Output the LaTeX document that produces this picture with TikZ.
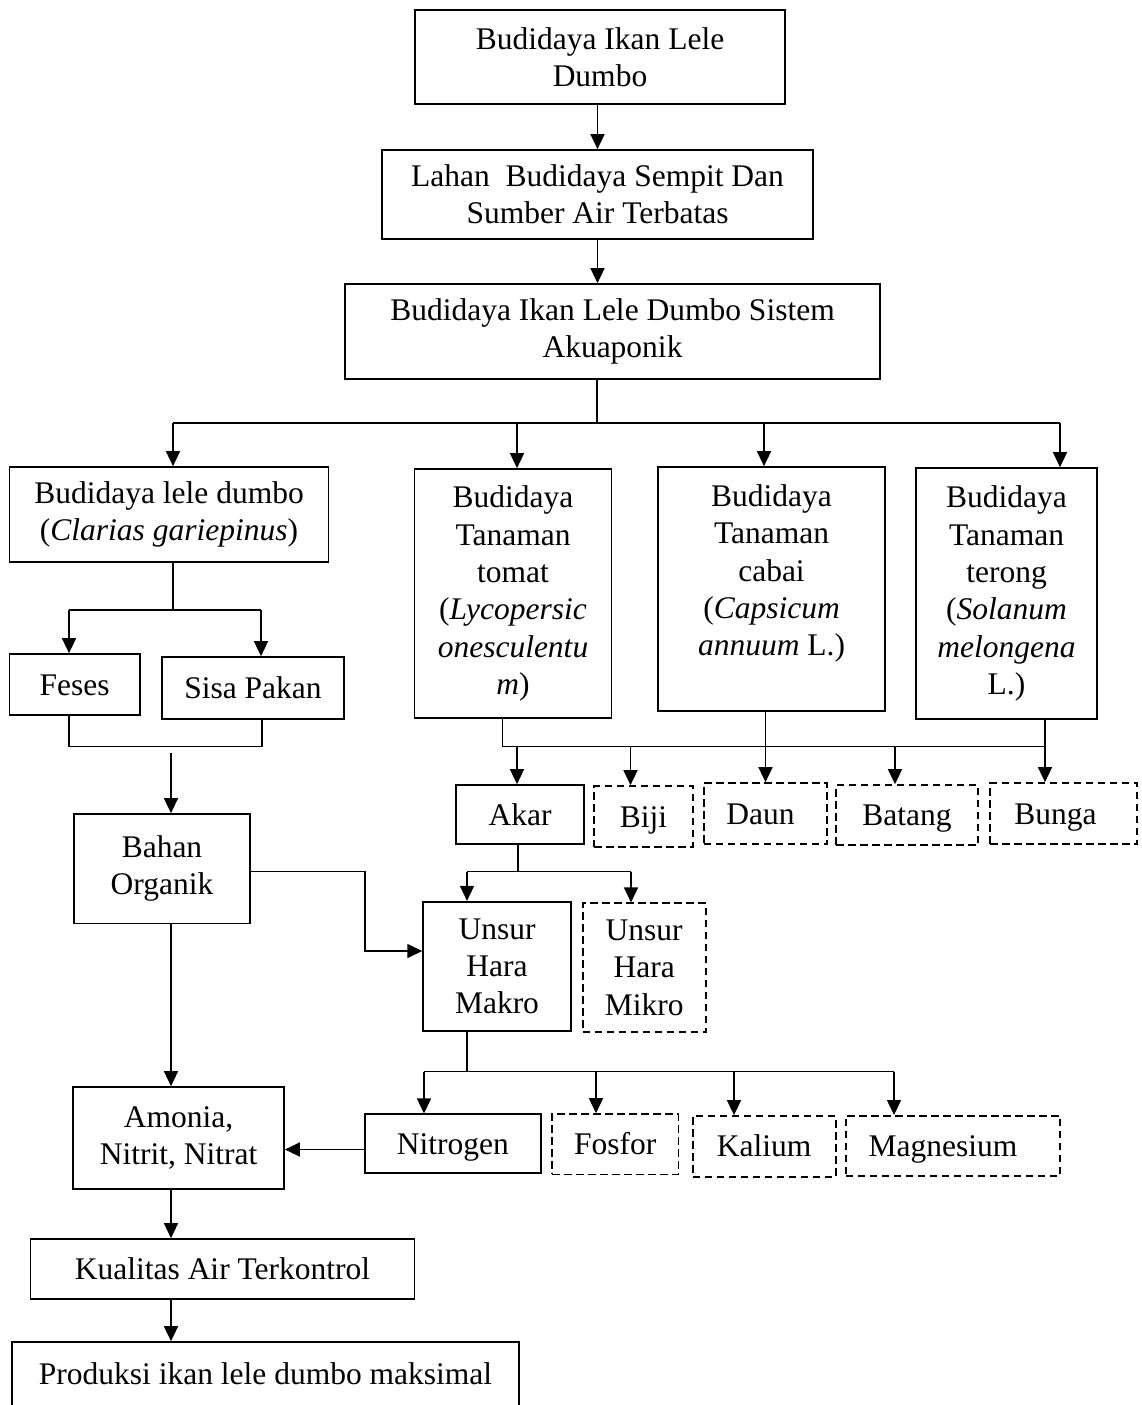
\documentclass[tikz,border=0pt]{standalone}
\usepackage{fontspec}
\setmainfont{Liberation Serif}
\usetikzlibrary{arrows.meta}
\begin{document}
\begin{tikzpicture}[x=1pt,y=-1pt,
  box/.style={draw, line width=1.7pt, align=center, inner sep=0pt,
    font=\fontsize{31.5pt}{37.3pt}\selectfont},
  dbox/.style={box, dash pattern=on 7.5pt off 4.5pt},
  oneline/.style={text height=21pt, text depth=0pt},
  con/.style={line width=1.5pt},
  arr/.style={con, -{Triangle[length=15pt,width=14pt]}}]
\fill[white] (0,0) rectangle (1141,1405);
\useasboundingbox (0,0) rectangle (1141,1405);

% nodes
\node[box, minimum width=370pt, minimum height=94pt] (top) at (600,57) {Budidaya Ikan Lele\\Dumbo};
\node[box, minimum width=431pt, minimum height=89pt] (lahan) at (597.5,194.5) {Lahan\ \ Budidaya Sempit Dan\\Sumber Air Terbatas};
\node[box, minimum width=535pt, minimum height=95pt] (sistem) at (612.5,331.5) {Budidaya Ikan Lele Dumbo Sistem\\Akuaponik};
\node[box, minimum width=319pt, minimum height=95pt] (lele) at (169,514.5) {Budidaya lele dumbo\\(\textit{Clarias gariepinus})};
\node[box, minimum width=197pt, minimum height=249pt] (tomat) at (513,593.5) {Budidaya\\Tanaman\\tomat\\(\textit{Lycopersic}\\\textit{onesculentu}\\\textit{m})};
\node[box, minimum width=227pt, minimum height=244pt] (cabai) at (771.5,589) {Budidaya\\Tanaman\\cabai\\(\textit{Capsicum}\\\textit{annuum} L.)\\\mbox{}};
\node[box, minimum width=181pt, minimum height=251pt] (terong) at (1006.5,593.5) {Budidaya\\Tanaman\\terong\\(\textit{Solanum}\\\textit{melongena}\\L.)};
\node[box, oneline, minimum width=130.7pt, minimum height=61pt] (feses) at (74.7,684.5) {Feses};
\node[box, oneline, minimum width=182.6pt, minimum height=62pt] (sisa) at (253,688) {Sisa Pakan};
\node[box, minimum width=176pt, minimum height=109.5pt] (bahan) at (162,868.7) {Bahan\\Organik};
\node[box, oneline, minimum width=127.7pt, minimum height=59pt] (akar) at (520,814.5) {Akar};
\node[dbox, oneline, minimum width=98.4pt, minimum height=61pt] (biji) at (643.5,816.5) {Biji};
\node[dbox, oneline, minimum width=123.5pt, minimum height=61pt] (daun) at (765.5,813.5) {Daun\hspace*{10pt}};
\node[dbox, oneline, minimum width=142pt, minimum height=60pt] (batang) at (907,815) {Batang};
\node[dbox, oneline, minimum width=147pt, minimum height=61pt] (bunga) at (1063.5,813.5) {Bunga\hspace*{16pt}};
\node[box, minimum width=147.7pt, minimum height=129.3pt] (makro) at (497,966.4) {Unsur\\Hara\\Makro};
\node[dbox, minimum width=123pt, minimum height=129pt] (mikro) at (644.2,967.8) {Unsur\\Hara\\Mikro};
\node[box, minimum width=211pt, minimum height=102pt] (amonia) at (178.5,1138) {Amonia,\\Nitrit, Nitrat};
\node[box, oneline, minimum width=175.7pt, minimum height=59pt] (nitrogen) at (452.9,1143.8) {Nitrogen};
\node[dbox, oneline, minimum width=126.3pt, minimum height=60.3pt] (fosfor) at (615.2,1144.2) {Fosfor};
\node[dbox, oneline, minimum width=143pt, minimum height=60.7pt] (kalium) at (764.2,1146.3) {Kalium};
\node[dbox, oneline, minimum width=214.3pt, minimum height=60.3pt] (magnesium) at (952.9,1146) {Magnesium\hspace*{20pt}};
\node[box, oneline, minimum width=384pt, minimum height=60pt] (kualitas) at (222.5,1269) {Kualitas Air Terkontrol};
\node[box, oneline, minimum width=507pt, minimum height=64.5pt] (produksi) at (265.5,1374.25) {Produksi ikan lele dumbo maksimal};

% coordinates
\coordinate (b1) at (597,423);
\coordinate (b1L) at (173,423);
\coordinate (b1R) at (1060,423);
\coordinate (d2) at (517,423);
\coordinate (d3) at (764,423);
\coordinate (b2) at (173,610);
\coordinate (b2L) at (69,610);
\coordinate (b2R) at (261,610);
\coordinate (b3L) at (69,746.5);
\coordinate (b3R) at (262,746.5);
\coordinate (b3s) at (171,753);
\coordinate (vx) at (171,0);
\coordinate (e1) at (365,871.7);
\coordinate (e2) at (365,951);
\coordinate (t1) at (502.5,746.5);
\coordinate (t2) at (1045,746.5);
\coordinate (a1) at (517,746.5);
\coordinate (a2) at (630.5,746.5);
\coordinate (a4) at (895,746.5);
\coordinate (k0) at (518,871.7);
\coordinate (kL) at (467,871.7);
\coordinate (kR) at (631,871.7);
\coordinate (m0) at (467,1071.7);
\coordinate (mL) at (424,1071.7);
\coordinate (mF) at (596,1071.7);
\coordinate (mK) at (734,1071.7);
\coordinate (mR) at (894,1071.7);
\coordinate (ny) at (0,1149.5);

% connectors
\draw[arr] (lahan.north |- top.south) -- (lahan.north);
\draw[arr] (lahan.south) -- (lahan.south |- sistem.north);
\draw[con] (sistem.south -| b1) -- (b1);
\draw[con] (b1L) -- (b1R);
\draw[arr] (b1L) -- (b1L |- lele.north);
\draw[arr] (d2) -- (d2 |- tomat.north);
\draw[arr] (d3) -- (d3 |- cabai.north);
\draw[arr] (b1R) -- (b1R |- terong.north);

\draw[con] (lele.south -| b2) -- (b2);
\draw[con] (b2L) -- (b2R);
\draw[arr] (b2L) -- (b2L |- feses.north);
\draw[arr] (b2R) -- (b2R |- sisa.north);
\draw[con] (feses.south -| b3L) -- (b3L) -- (b3R) -- (sisa.south -| b3R);
\draw[arr] (b3s) -- (b3s |- bahan.north);

\draw[arr] (bahan.south -| vx) -- (amonia.north -| vx);
\draw[arr] (bahan.east |- e1) -- (e1) -- (e2) -- (e2 -| makro.west);

\draw[con] (tomat.south -| t1) -- (t1) -- (t2) -- (terong.south -| t2);
\draw[arr] (t2) -- (t2 |- bunga.north);
\draw[arr] (cabai.south -| daun.north) -- (daun.north);
\draw[arr] (a1) -- (a1 |- akar.north);
\draw[arr] (a2) -- (a2 |- biji.north);
\draw[arr] (a4) -- (a4 |- batang.north);

\draw[con] (akar.south -| k0) -- (k0);
\draw[con] (kL) -- (kR);
\draw[arr] (kL) -- (kL |- makro.north);
\draw[arr] (kR) -- (kR |- mikro.north);

\draw[con] (makro.south -| m0) -- (m0);
\draw[con] (mL) -- (mR);
\draw[arr] (mL) -- (mL |- nitrogen.north);
\draw[arr] (mF) -- (mF |- fosfor.north);
\draw[arr] (mK) -- (mK |- kalium.north);
\draw[arr] (mR) -- (mR |- magnesium.north);

\draw[arr] (nitrogen.west |- ny) -- (amonia.east |- ny);
\draw[arr] (amonia.south -| vx) -- (kualitas.north -| vx);
\draw[arr] (kualitas.south -| vx) -- (produksi.north -| vx);
\end{tikzpicture}
\end{document}
